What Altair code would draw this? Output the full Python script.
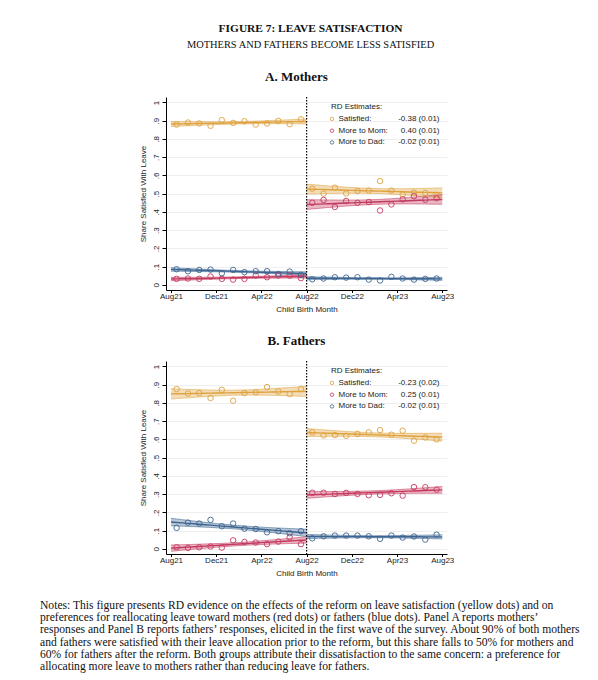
import altair as alt
import pandas as pd
import numpy as np

# ---------------- data ----------------
pre_months = ["2021-08", "2021-09", "2021-10", "2021-11", "2021-12", "2022-01",
              "2022-02", "2022-03", "2022-04", "2022-05", "2022-06", "2022-07"]
post_months = ["2022-08", "2022-09", "2022-10", "2022-11", "2022-12", "2023-01",
               "2023-02", "2023-03", "2023-04", "2023-05", "2023-06", "2023-07"]

x_tick_values = [0, 4, 8, 12, 16, 20, 24]
x_tick_labels = ["Aug21", "Dec21", "Apr22", "Aug22", "Dec22", "Apr23", "Aug23"]
y_tick_values = [0.0, 0.1, 0.2, 0.3, 0.4, 0.5, 0.6, 0.7, 0.8, 0.9, 1.0]
cutoff_month = 12  # Aug22 reform

series_names = ["Satisfied", "More to Mom", "More to Dad"]
series_colors = ["#DEA23E", "#C4395F", "#3D6591"]

# Mothers
m_sat_pre = [0.879, 0.890, 0.885, 0.872, 0.903, 0.888, 0.897, 0.879, 0.885, 0.899, 0.881, 0.908]
m_sat_post = [0.527, 0.500, 0.533, 0.501, 0.515, 0.517, 0.569, 0.517, 0.495, 0.505, 0.504, 0.494]
m_mom_pre = [0.033, 0.035, 0.033, 0.046, 0.033, 0.029, 0.033, 0.051, 0.042, 0.051, 0.051, 0.037]
m_mom_post = [0.450, 0.466, 0.427, 0.460, 0.450, 0.454, 0.408, 0.441, 0.469, 0.486, 0.467, 0.475]
m_dad_pre = [0.086, 0.075, 0.082, 0.084, 0.064, 0.082, 0.070, 0.075, 0.075, 0.060, 0.073, 0.055]
m_dad_post = [0.031, 0.035, 0.042, 0.040, 0.042, 0.029, 0.024, 0.044, 0.035, 0.029, 0.033, 0.035]
m_estimates = [(-0.38, 0.01), (0.40, 0.01), (-0.02, 0.01)]

# Fathers
f_sat_pre = [0.876, 0.852, 0.854, 0.827, 0.872, 0.812, 0.854, 0.858, 0.887, 0.863, 0.849, 0.876]
f_sat_post = [0.639, 0.622, 0.624, 0.620, 0.630, 0.639, 0.651, 0.626, 0.648, 0.593, 0.611, 0.600]
f_mom_pre = [0.009, 0.005, 0.009, 0.013, 0.007, 0.047, 0.038, 0.035, 0.026, 0.040, 0.064, 0.026]
f_mom_post = [0.308, 0.308, 0.301, 0.307, 0.301, 0.294, 0.296, 0.305, 0.292, 0.339, 0.338, 0.325]
f_dad_pre = [0.115, 0.144, 0.139, 0.159, 0.124, 0.139, 0.111, 0.109, 0.091, 0.097, 0.086, 0.097]
f_dad_post = [0.058, 0.069, 0.073, 0.073, 0.073, 0.069, 0.055, 0.073, 0.062, 0.068, 0.051, 0.078]
f_estimates = [(-0.23, 0.02), (0.25, 0.01), (-0.02, 0.01)]

notes_lines = [
    "Notes: This figure presents RD evidence on the effects of the reform on leave satisfaction (yellow dots) and on",
    "preferences for reallocating leave toward mothers (red dots) or fathers (blue dots).  Panel A reports mothers\u2019",
    "responses and Panel B reports fathers\u2019 responses, elicited in the first wave of the survey. About 90% of both mothers",
    "and fathers were satisfied with their leave allocation prior to the reform, but this share falls to 50% for mothers and",
    "60% for fathers after the reform. Both groups attribute their dissatisfaction to the same concern: a preference for",
    "allocating more leave to mothers rather than reducing leave for fathers.",
]

T_CRIT = 2.228  # 95% t critical value, 10 d.f.

AXIS_FONT = "Liberation Sans"
SERIF = "Liberation Serif"
W, H = 281, 193


def build_frames(series_pre, series_post):
    pts, fits = [], []
    for name, pre, post in zip(series_names, series_pre, series_post):
        for side, months, vals, offset in (("pre", pre_months, pre, 0),
                                           ("post", post_months, post, cutoff_month)):
            ts = np.array([offset + i + 0.5 for i in range(len(months))])
            ys = np.array(vals)
            for m, t, y in zip(months, ts, ys):
                pts.append({"series": name, "side": side, "month": m, "t": t, "y": y})
            n = len(ts)
            b, a = np.polyfit(ts, ys, 1)
            resid = ys - (a + b * ts)
            s = np.sqrt(np.sum(resid ** 2) / (n - 2))
            xbar = ts.mean()
            sxx = np.sum((ts - xbar) ** 2)
            grid = np.linspace(offset, offset + len(months), 25)
            fit = a + b * grid
            se = s * np.sqrt(1.0 / n + (grid - xbar) ** 2 / sxx)
            for g, f, e in zip(grid, fit, se):
                fits.append({"series": name, "side": side, "t": g, "fit": f,
                             "lo": f - T_CRIT * e, "hi": f + T_CRIT * e})
    return pd.DataFrame(pts), pd.DataFrame(fits)


label_arr = "[" + ",".join("'%s'" % s for s in x_tick_labels) + "]"

x_scale = alt.Scale(domain=[-0.44, 24.42], nice=False, zero=False)
y_scale = alt.Scale(domain=[-0.028, 1.03], nice=False, zero=False)

x_axis = alt.Axis(values=x_tick_values, labelExpr=label_arr + "[datum.value/4]",
                  title="Child Birth Month", grid=False, tickSize=2.5, labelPadding=0,
                  titlePadding=5, labelFont=AXIS_FONT, titleFont=AXIS_FONT,
                  labelFontSize=8, titleFontSize=8, titleFontWeight="normal",
                  domainColor="#000000", tickColor="#000000", labelColor="#222222",
                  titleColor="#222222", domainWidth=1, tickWidth=1, labelFlush=False)
y_axis = alt.Axis(values=y_tick_values,
                  labelExpr="datum.value == 0 ? '0' : datum.value == 1 ? '1' : replace(format(datum.value, '.1f'), '0.', '.')",
                  title="Share Satisfied With Leave", grid=True, gridColor="#EBEBEB",
                  gridWidth=0.8, tickSize=4, labelAngle=270, labelAlign="center",
                  labelBaseline="bottom", labelPadding=2, titlePadding=5,
                  labelFont=AXIS_FONT, titleFont=AXIS_FONT, labelFontSize=8,
                  titleFontSize=8, titleFontWeight="normal", domainColor="#000000",
                  tickColor="#000000", labelColor="#222222", titleColor="#222222",
                  domainWidth=1, tickWidth=1, labelFlush=False, labelOverlap=False)

color = alt.Color("series:N", scale=alt.Scale(domain=series_names, range=series_colors),
                  legend=None)

one_row = pd.DataFrame({"k": [0]})


def panel(title, series_pre, series_post, estimates):
    pts, fits = build_frames(series_pre, series_post)
    X = alt.X("t:Q", scale=x_scale, axis=x_axis)

    def Y(field):
        return alt.Y(field, type="quantitative", scale=y_scale, axis=y_axis)

    band = alt.Chart(fits).mark_area(opacity=0.36).encode(
        x=X, y=Y("lo"), y2="hi:Q", color=color, detail="side:N")
    lo_edge = alt.Chart(fits).mark_line(strokeWidth=0.6, opacity=0.9).encode(
        x=X, y=Y("lo"), color=color, detail="side:N")
    hi_edge = alt.Chart(fits).mark_line(strokeWidth=0.6, opacity=0.9).encode(
        x=X, y=Y("hi"), color=color, detail="side:N")
    fit_line = alt.Chart(fits).mark_line(strokeWidth=1.4).encode(
        x=X, y=Y("fit"), color=color, detail="side:N")
    points = alt.Chart(pts).mark_point(shape="circle", filled=False, size=30,
                                       strokeWidth=0.9, opacity=1).encode(
        x=X, y=Y("y"), color=color)
    rule = alt.Chart(one_row).mark_rule(color="#000000", strokeDash=[1.5, 1.5],
                                        strokeWidth=1.2).encode(x=alt.datum(cutoff_month))

    layers = [band, lo_edge, hi_edge, fit_line, points, rule]

    # legend (inside the plot, upper right)
    layers.append(alt.Chart(one_row).mark_text(align="left", baseline="middle", font=AXIS_FONT,
                                               fontSize=8, color="#222222").encode(
        x=alt.value(165), y=alt.value(10), text=alt.value("RD Estimates:")))
    for i, (name, col, (est, se)) in enumerate(zip(series_names, series_colors, estimates)):
        ry = 22.0 + i * 11.7
        layers.append(alt.Chart(one_row).mark_point(shape="circle", filled=False, size=12,
                                                    strokeWidth=0.8, color=col, opacity=1).encode(
            x=alt.value(166), y=alt.value(ry)))
        layers.append(alt.Chart(one_row).mark_text(align="left", baseline="middle", font=AXIS_FONT,
                                                   fontSize=8, color="#222222").encode(
            x=alt.value(172.5), y=alt.value(ry), text=alt.value(name + ":")))
        layers.append(alt.Chart(one_row).mark_text(align="right", baseline="middle", font=AXIS_FONT,
                                                   fontSize=8, color="#222222").encode(
            x=alt.value(273.5), y=alt.value(ry), text=alt.value("%.2f (%.2f)" % (est, se))))

    return alt.layer(*layers).properties(
        width=W, height=H,
        title=alt.TitleParams(title, font=SERIF, fontSize=13, fontWeight="bold",
                              anchor="middle", frame="bounds", offset=12.5, color="#111111"))


panel_a = panel("A. Mothers", [m_sat_pre, m_mom_pre, m_dad_pre],
                [m_sat_post, m_mom_post, m_dad_post], m_estimates)
panel_b = panel("B. Fathers", [f_sat_pre, f_mom_pre, f_dad_pre],
                [f_sat_post, f_mom_post, f_dad_post], f_estimates)

notes = alt.Chart(pd.DataFrame({"note": ["\n".join(notes_lines)]})).mark_text(
    align="left", baseline="top", font=SERIF, fontSize=11.6, lineHeight=12.2,
    lineBreak="\n", color="#111111").encode(
    x=alt.value(-126), y=alt.value(2), text="note:N").properties(width=W, height=70)

chart = alt.vconcat(
    panel_a, panel_b, notes, spacing=20,
    title=alt.TitleParams("FIGURE 7: LEAVE SATISFACTION",
                          subtitle="MOTHERS AND FATHERS BECOME LESS SATISFIED",
                          font=SERIF, fontSize=11.4, fontWeight="bold", color="#111111",
                          subtitleFont=SERIF, subtitleFontSize=10.4, subtitleColor="#111111",
                          subtitlePadding=5, anchor="middle", offset=21),
).properties(
    padding={"left": 32, "top": 15, "right": 5, "bottom": 5}
).configure_view(stroke=None)

chart.save("out.html", embed_options={"renderer": "svg", "actions": False})
